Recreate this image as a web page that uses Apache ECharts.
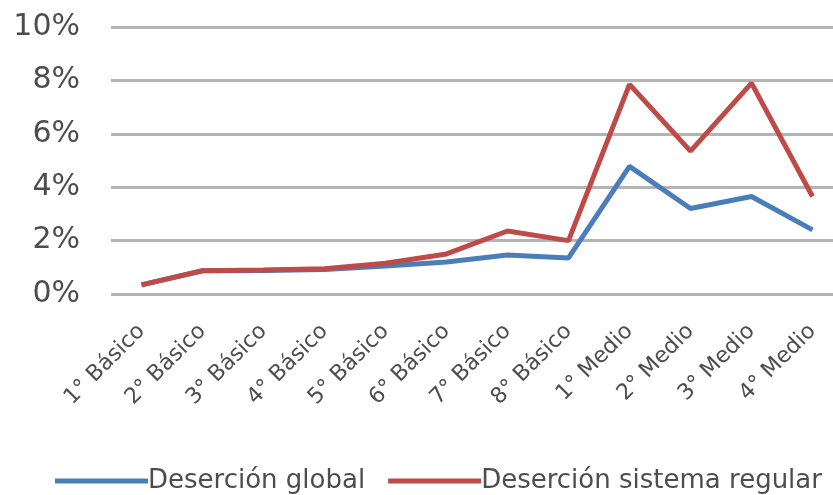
<!DOCTYPE html>
<html>
<head>
<meta charset="utf-8">
<script src="https://cdn.jsdelivr.net/npm/echarts@6/dist/echarts.min.js"></script>
<style>
  html, body { margin: 0; padding: 0; background: #fff; overflow: hidden; }
  #chart { width: 843px; height: 495px; }
</style>
</head>
<body>
<div id="chart"></div>
<script>
const categories = ['1° Básico', '2° Básico', '3° Básico', '4° Básico', '5° Básico', '6° Básico',
  '7° Básico', '8° Básico', '1° Medio', '2° Medio', '3° Medio', '4° Medio']
const desercionGlobal = [0.34, 0.87, 0.88, 0.92, 1.05, 1.2, 1.46, 1.35, 4.78, 3.2, 3.65, 2.4]
const desercionRegular = [0.34, 0.87, 0.9, 0.95, 1.15, 1.5, 2.36, 2.0, 7.85, 5.35, 7.9, 3.65]
const yTicks = [0, 2, 4, 6, 8, 10]

const myChart = echarts.init(document.getElementById('chart'))

const option = {
  animation: false,
  textStyle: { fontFamily: 'DejaVu Sans' },
  grid: {
    left: 111,
    top: 27,
    right: 0,
    height: 267
  },
  legend: {
    left: 50,
    top: 463,
    icon: 'rect',
    itemWidth: 93,
    itemHeight: 5,
    itemGap: 23,
    textStyle: { fontSize: 26, color: '#4d4d4d', padding: [0, 0, 0, -5] },
    data: ['Deserción global', 'Deserción sistema regular']
  },
  xAxis: {
    type: 'category',
    data: categories,
    boundaryGap: true,
    axisLine: { show: false },
    axisTick: { show: false },
    axisLabel: {
      rotate: 45,
      fontSize: 22,
      color: '#4d4d4d',
      margin: 34,
      interval: 0
    }
  },
  yAxis: {
    type: 'value',
    min: yTicks[0],
    max: yTicks[yTicks.length - 1],
    interval: 2,
    axisLine: { show: false },
    axisTick: { show: false },
    axisLabel: {
      fontSize: 30,
      color: '#4d4d4d',
      margin: 31,
      formatter: v => v + '%'
    },
    splitLine: { lineStyle: { color: '#b4b4b4', width: 3 } }
  },
  series: [
    {
      name: 'Deserción global',
      type: 'line',
      data: desercionGlobal,
      symbol: 'none',
      color: '#4a7ebb',
      lineStyle: { width: 5, color: '#4a7ebb' }
    },
    {
      name: 'Deserción sistema regular',
      type: 'line',
      data: desercionRegular,
      symbol: 'none',
      color: '#be4b48',
      lineStyle: { width: 5, color: '#be4b48' }
    }
  ]
}

myChart.setOption(option)
</script>
</body>
</html>
